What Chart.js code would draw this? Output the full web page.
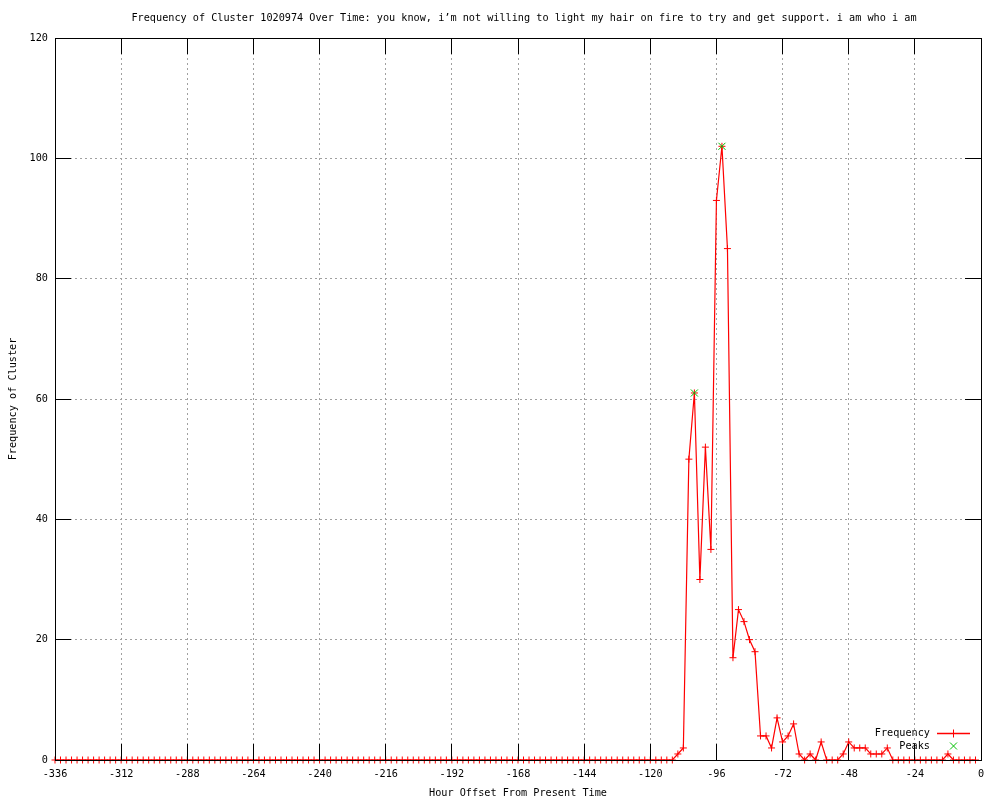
<!DOCTYPE html>
<html>
<head>
<meta charset="utf-8">
<script src="https://cdn.jsdelivr.net/npm/chart.js@4"></script>
<style>
  html, body { margin: 0; padding: 0; background: #fff; }
  #wrap { width: 1000px; height: 800px; }
</style>
</head>
<body>
<div id="wrap"><canvas id="chart" width="1000" height="800"></canvas></div>
<script>
const chartTitle = "Frequency of Cluster 1020974 Over Time: you know, i\u2019m not willing to light my hair on fire to try and get support. i am who i am";
const xTitle = "Hour Offset From Present Time";
const yTitle = "Frequency of Cluster";

// hourly buckets, every 2 hours from -336 to -2
const hours = Array.from({ length: 168 }, (_, i) => -336 + i * 2);

// one row per day (12 buckets each), starting at -336, -312, ... -24
const frequency = [
  0, 0, 0, 0, 0, 0, 0, 0, 0, 0, 0, 0,
  0, 0, 0, 0, 0, 0, 0, 0, 0, 0, 0, 0,
  0, 0, 0, 0, 0, 0, 0, 0, 0, 0, 0, 0,
  0, 0, 0, 0, 0, 0, 0, 0, 0, 0, 0, 0,
  0, 0, 0, 0, 0, 0, 0, 0, 0, 0, 0, 0,
  0, 0, 0, 0, 0, 0, 0, 0, 0, 0, 0, 0,
  0, 0, 0, 0, 0, 0, 0, 0, 0, 0, 0, 0,
  0, 0, 0, 0, 0, 0, 0, 0, 0, 0, 0, 0,
  0, 0, 0, 0, 0, 0, 0, 0, 0, 0, 0, 0,
  0, 0, 0, 0, 0, 1, 2, 50, 61, 30, 52, 35,
  93, 102, 85, 17, 25, 23, 20, 18, 4, 4, 2, 7,
  3, 4, 6, 1, 0, 1, 0, 3, 0, 0, 0, 1,
  3, 2, 2, 2, 1, 1, 1, 2, 0, 0, 0, 0,
  0, 0, 0, 0, 0, 0, 1, 0, 0, 0, 0, 0
];

const peakHours = [-104, -94];
const peakValues = [61, 102];

const xTicks = [-336, -312, -288, -264, -240, -216, -192, -168, -144, -120, -96, -72, -48, -24, 0];
const yTicks = [0, 20, 40, 60, 80, 100, 120];

const FONT = '"DejaVu Sans Mono", monospace';
const FONT_SIZE = 10.2;
const TIC = 16;
const RED = "#ff0000";
const GREEN = "#00c000";

const freqPoints = hours.map((h, i) => ({ x: h, y: frequency[i] }));
const peakPoints = peakHours.map((h, i) => ({ x: h, y: peakValues[i] }));

// same rounding Chart.js uses for 1px grid lines
const align = (p) => Math.round(p - 0.5) + 0.5;

// gnuplot-like frame, inward tics, titles and key
const gnuFrame = {
  id: "gnuFrame",
  afterDatasetsDraw(chart) {
    const c = chart.ctx;
    const a = chart.chartArea;
    const xs = chart.scales.x;
    const ys = chart.scales.y;
    c.save();
    c.setLineDash([]);
    c.strokeStyle = "#000";
    c.lineWidth = 1;
    c.beginPath();
    for (const v of xTicks) {
      const px = align(xs.getPixelForValue(v));
      c.moveTo(px, a.bottom);
      c.lineTo(px, a.bottom - TIC);
      c.moveTo(px, a.top);
      c.lineTo(px, a.top + TIC);
    }
    for (const v of yTicks) {
      const py = align(ys.getPixelForValue(v));
      c.moveTo(a.left, py);
      c.lineTo(a.left + TIC, py);
      c.moveTo(a.right, py);
      c.lineTo(a.right - TIC, py);
    }
    c.stroke();
    const l = align(a.left), r = align(a.right), t = align(a.top), b = align(a.bottom);
    c.strokeRect(l, t, r - l, b - t);
    c.restore();
  },
  afterDraw(chart) {
    const c = chart.ctx;
    const a = chart.chartArea;
    c.save();
    c.setLineDash([]);
    c.fillStyle = "#000";
    c.font = FONT_SIZE + "px " + FONT;
    c.textBaseline = "middle";
    c.textAlign = "center";
    c.fillText(chartTitle, 524, 18);
    c.fillText(xTitle, (a.left + a.right) / 2, 793);
    c.save();
    c.translate(13, (a.top + a.bottom) / 2);
    c.rotate(-Math.PI / 2);
    c.fillText(yTitle, 0, 0);
    c.restore();

    // key
    const ds = chart.data.datasets;
    c.textAlign = "right";
    c.fillStyle = "#000";
    c.fillText(ds[0].label, 930, 733);
    c.fillText(ds[1].label, 930, 746);
    c.lineWidth = 1.5;
    c.strokeStyle = RED;
    c.beginPath();
    c.moveTo(937, 733.5);
    c.lineTo(970, 733.5);
    c.stroke();
    c.lineWidth = 1;
    c.beginPath();
    c.moveTo(953.5, 729.5);
    c.lineTo(953.5, 737.5);
    c.stroke();
    c.strokeStyle = GREEN;
    c.beginPath();
    c.moveTo(950, 742.5);
    c.lineTo(957, 749.5);
    c.moveTo(957, 742.5);
    c.lineTo(950, 749.5);
    c.stroke();
    c.restore();
  }
};

const ctx = document.getElementById("chart").getContext("2d");

new Chart(ctx, {
  type: "line",
  data: {
    datasets: [
      {
        label: "Frequency",
        data: freqPoints,
        borderColor: RED,
        borderWidth: 1.2,
        pointStyle: "cross",
        pointRadius: 3.5,
        pointBorderColor: RED,
        pointBorderWidth: 1,
        tension: 0,
        clip: false,
        order: 1
      },
      {
        label: "Peaks",
        data: peakPoints,
        showLine: false,
        borderColor: GREEN,
        pointStyle: "crossRot",
        pointRadius: 5,
        pointBorderColor: GREEN,
        pointBorderWidth: 1,
        clip: false,
        order: 0
      }
    ]
  },
  options: {
    responsive: false,
    animation: false,
    events: [],
    layout: { padding: { top: 38, right: 19, left: 0, bottom: 0 } },
    plugins: {
      legend: { display: false },
      title: { display: false },
      tooltip: { enabled: false }
    },
    scales: {
      x: {
        type: "linear",
        min: -336,
        max: 0,
        afterFit: (scale) => { scale.height = 40; },
        afterBuildTicks: (scale) => { scale.ticks = xTicks.map((v) => ({ value: v })); },
        ticks: {
          color: "#000",
          font: { family: FONT, size: FONT_SIZE },
          padding: 8,
          maxRotation: 0,
          autoSkip: false
        },
        grid: { color: "#a0a0a0", lineWidth: 1, drawTicks: false },
        border: { display: false, dash: [2, 3] }
      },
      y: {
        min: 0,
        max: 120,
        afterFit: (scale) => { scale.width = 55; },
        afterBuildTicks: (scale) => { scale.ticks = yTicks.map((v) => ({ value: v })); },
        ticks: {
          color: "#000",
          font: { family: FONT, size: FONT_SIZE },
          padding: 7
        },
        grid: { color: "#a0a0a0", lineWidth: 1, drawTicks: false },
        border: { display: false, dash: [2, 3] }
      }
    }
  },
  plugins: [gnuFrame]
});
</script>
</body>
</html>
